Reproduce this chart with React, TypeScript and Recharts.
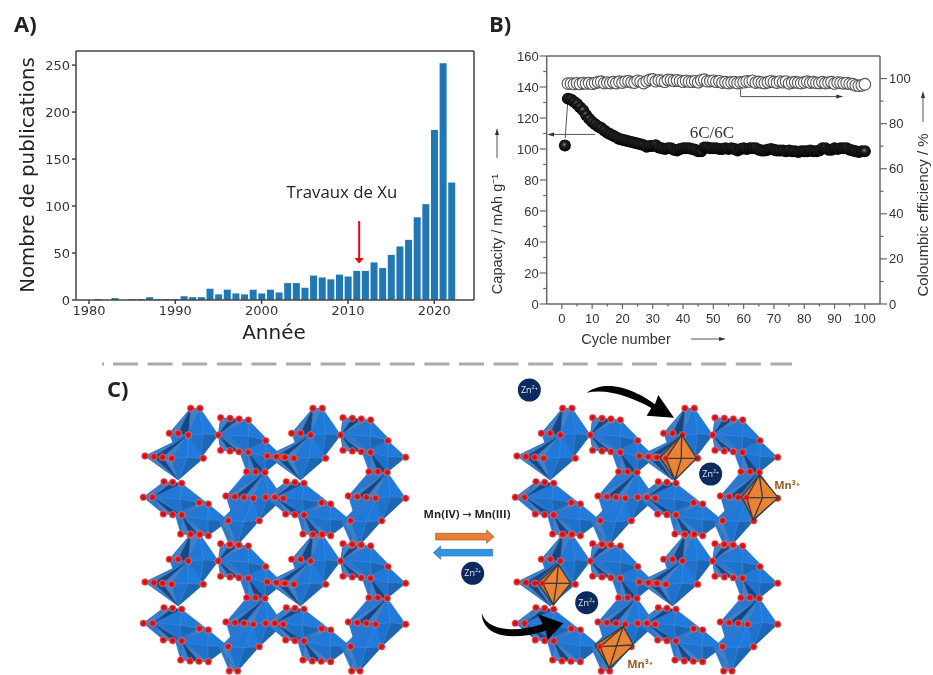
import {
  Bar,
  BarChart,
  ReferenceDot,
  ReferenceLine,
  Scatter,
  ScatterChart,
  XAxis,
  YAxis,
} from 'recharts'

// panel A: publications per year
const years = [
  1980, 1981, 1982, 1983, 1984, 1985, 1986, 1987, 1988, 1989, 1990, 1991, 1992, 1993, 1994, 1995, 1996, 1997, 1998,
  1999, 2000, 2001, 2002, 2003, 2004, 2005, 2006, 2007, 2008, 2009, 2010, 2011, 2012, 2013, 2014, 2015, 2016, 2017,
  2018, 2019, 2020, 2021, 2022,
]
const publications = [
  0, 1, 0, 2, 0, 1, 1, 3, 1, 1, 1, 4, 3, 3, 12, 6, 11, 7, 6, 11, 7, 11, 8, 18, 18, 13, 26, 24, 22, 27, 25, 31, 31, 40,
  34, 48, 57, 64, 88, 102, 181, 252, 125,
]
const yearTicks = [1980, 1990, 2000, 2010, 2020]
const pubTicks = [0, 50, 100, 150, 200, 250]

// panel B: capacity starts at cycle 1, efficiency at cycle 2
const capacity = [
  102.3, 132.5, 132, 130.5, 129, 127, 125, 122, 119.5, 117.5, 116, 114.5, 113.5, 112, 110.5, 109.5, 108.5, 107.5,
  106.5, 106, 105.5, 105, 104.5, 104, 103.5, 103, 102.5, 101.5, 102, 102, 102.5, 101, 100.5, 100, 100.5, 100.5, 99.5,
  99, 100, 100.5, 100.5, 100.5, 100, 99.5, 98.5, 98.5, 101, 101, 100.5, 100.5, 100.5, 100, 100, 100.5, 100, 100.5, 100,
  99, 100, 100.5, 100, 100.5, 100.5, 100.5, 99.5, 99, 99, 99.5, 100, 99.5, 99, 99, 99, 98.5, 99, 98.5, 98.5, 98, 98.5,
  98.5, 98.5, 99, 98.5, 98.5, 99, 100.5, 100.5, 99.5, 99.5, 100.5, 100, 100.5, 100.5, 100.5, 99.5, 99, 98.5, 98, 98.5,
  98.5,
]
const efficiency = [
  97.8, 97.8, 97.6, 97.9, 97.6, 98, 97.8, 98, 97.7, 98, 98.4, 98.6, 98, 98.2, 98, 98.4, 98, 98.6, 98.2, 98.7, 98.8,
  98.4, 98.2, 99, 98.7, 98, 98.8, 99.4, 99.6, 98.8, 99.2, 99, 98.6, 99.4, 99.3, 99, 99.2, 99, 98.6, 99, 98.7, 98.6,
  98.8, 98.4, 99.2, 99.5, 98.8, 98.9, 99, 98.6, 98.8, 98.2, 98.4, 98, 98.3, 98.4, 98, 98.3, 98.4, 98.8, 98.7, 99, 98.2,
  98.5, 98.2, 98, 98.4, 98.8, 98.5, 98.2, 98.7, 98.4, 98.7, 97.9, 98.2, 98.4, 98.2, 98, 98.3, 98.6, 98.2, 98.4, 98.1,
  98, 98.4, 98, 98.2, 98.4, 97.8, 98.2, 98.1, 97.9, 98, 97.7, 97.5, 97, 96.8, 97, 97.5,
]
const cycleTicks = [
  0, 5, 10, 15, 20, 25, 30, 35, 40, 45, 50, 55, 60, 65, 70, 75, 80, 85, 90, 95, 100,
]
const capacityTicks = [0, 10, 20, 30, 40, 50, 60, 70, 80, 90, 100, 110, 120, 130, 140, 150, 160]
const efficiencyTicks = [0, 10, 20, 30, 40, 50, 60, 70, 80, 90, 100]

const pubData = years.map((year, i) => ({ year, count: publications[i] }))
const capacityData = capacity.map((value, i) => ({ cycle: i + 1, value }))
const efficiencyData = efficiency.map((value, i) => ({ cycle: i + 2, value }))

const MPL = 'DejaVu Sans'
const ARIAL = 'Liberation Sans'
const AXIS_GREY = '#666'
const TEXT = '#333'

function CapacityDot({ cx, cy }: any) {
  return <circle cx={cx} cy={cy} r={6} fill="url(#ball)" />
}

function EfficiencyDot({ cx, cy }: any) {
  return <circle cx={cx} cy={cy} r={5.8} fill="#fff" stroke="#555" strokeWidth={1.1} />
}

// major ticks carry a label, the ones in between are only short marks
function BottomTick({ x, y, payload }: any) {
  const major = payload.value % 10 === 0
  return (
    <g>
      <line x1={x} x2={x} y1={y} y2={y + (major ? 5 : 2.5)} stroke={AXIS_GREY} strokeWidth={1.2} />
      {major && (
        <text x={x} y={y + 19} textAnchor="middle" fontFamily={ARIAL} fontSize={13} fill={TEXT}>
          {payload.value}
        </text>
      )}
    </g>
  )
}

function LeftTick({ x, y, payload }: any) {
  const major = payload.value % 20 === 0
  return (
    <g>
      <line x1={x - (major ? 7 : 3.5)} x2={x} y1={y} y2={y} stroke={AXIS_GREY} strokeWidth={1.2} />
      {major && (
        <text x={x - 8} y={y + 4.5} textAnchor="end" fontFamily={ARIAL} fontSize={13} fill={TEXT}>
          {payload.value}
        </text>
      )}
    </g>
  )
}

function RightTick({ x, y, payload }: any) {
  const major = payload.value % 20 === 0
  return (
    <g>
      <line x1={x} x2={x + (major ? 7 : 3.5)} y1={y} y2={y} stroke={AXIS_GREY} strokeWidth={1.2} />
      {major && (
        <text x={x + 9} y={y + 4.5} fontFamily={ARIAL} fontSize={13} fill={TEXT}>
          {payload.value}
        </text>
      )}
    </g>
  )
}

function PublicationsChart() {
  return (
    <BarChart
      width={480}
      height={350}
      data={pubData}
      margin={{ top: 51, right: 6, bottom: 20, left: 36 }}
      style={{ position: 'absolute', left: 0, top: 0 }}
    >
      <XAxis
        dataKey="year"
        type="number"
        domain={[1978.5, 2024.6]}
        ticks={yearTicks}
        interval={0}
        height={30}
        tickSize={4}
        tick={{ fontFamily: MPL, fontSize: 13, fill: TEXT }}
        stroke="#444"
        strokeWidth={1.5}
        allowDataOverflow
      />
      <YAxis
        domain={[0, 265]}
        ticks={pubTicks}
        interval={0}
        width={40}
        tickSize={4}
        tick={{ fontFamily: MPL, fontSize: 13, fill: TEXT }}
        stroke="#444"
        strokeWidth={1.5}
        allowDataOverflow
      />
      <ReferenceLine y={265} stroke="#444" strokeWidth={1.5} />
      <ReferenceLine x={2024.6} stroke="#444" strokeWidth={1.5} />
      <Bar dataKey="count" fill="#1f77b4" barSize={7} isAnimationActive={false} />
      <ReferenceLine
        segment={[
          { x: 2011.3, y: 84 },
          { x: 2011.3, y: 43 },
        ]}
        stroke="#f00000"
        strokeWidth={2}
        markerEnd="url(#headRed)"
      />
      <ReferenceDot
        x={2009.3}
        y={115}
        r={0}
        fill="none"
        stroke="none"
        label={{ value: 'Travaux de Xu', fontFamily: 'Open Sans', fontSize: 16.8, fill: '#222' }}
      />
    </BarChart>
  )
}

function CyclingChart() {
  return (
    <ScatterChart
      width={453}
      height={360}
      margin={{ top: 56, right: 3, bottom: 26, left: 16.7 }}
      style={{ position: 'absolute', left: 480, top: 0 }}
    >
      <XAxis
        dataKey="cycle"
        type="number"
        domain={[-5, 105]}
        ticks={cycleTicks}
        interval={0}
        height={30}
        tickLine={false}
        tickSize={0}
        tickMargin={0}
        tick={<BottomTick />}
        stroke={AXIS_GREY}
        strokeWidth={1.5}
        allowDataOverflow
      />
      <YAxis
        yAxisId="capacity"
        dataKey="value"
        type="number"
        domain={[0, 160]}
        ticks={capacityTicks}
        interval={0}
        width={50}
        tickLine={false}
        tickSize={0}
        tickMargin={0}
        tick={<LeftTick />}
        stroke={AXIS_GREY}
        strokeWidth={1.5}
        allowDataOverflow
      />
      <YAxis
        yAxisId="efficiency"
        orientation="right"
        dataKey="value"
        type="number"
        domain={[0, 110]}
        ticks={efficiencyTicks}
        interval={0}
        width={50}
        tickLine={false}
        tickSize={0}
        tickMargin={0}
        tick={<RightTick />}
        stroke={AXIS_GREY}
        strokeWidth={1.5}
        allowDataOverflow
      />
      <ReferenceLine yAxisId="capacity" y={160} stroke={AXIS_GREY} strokeWidth={1.5} />
      <Scatter
        yAxisId="efficiency"
        data={efficiencyData}
        shape={<EfficiencyDot />}
        isAnimationActive={false}
      />
      <Scatter yAxisId="capacity" data={capacityData} shape={<CapacityDot />} isAnimationActive={false} />
      <ReferenceLine
        yAxisId="capacity"
        segment={[
          { x: 2, y: 132 },
          { x: 1.1, y: 107 },
        ]}
        stroke="#555"
        strokeWidth={1}
      />
      <ReferenceLine
        yAxisId="capacity"
        segment={[
          { x: 11, y: 109.4 },
          { x: -2.9, y: 109.4 },
        ]}
        stroke="#555"
        strokeWidth={1}
        markerEnd="url(#headGrey)"
      />
      <ReferenceLine
        yAxisId="capacity"
        segment={[
          { x: 59, y: 139 },
          { x: 59, y: 133.8 },
        ]}
        stroke="#555"
        strokeWidth={1}
      />
      <ReferenceLine
        yAxisId="capacity"
        segment={[
          { x: 59, y: 133.8 },
          { x: 90.9, y: 133.8 },
        ]}
        stroke="#555"
        strokeWidth={1}
        markerEnd="url(#headGrey)"
      />
      <ReferenceDot
        yAxisId="capacity"
        x={49.5}
        y={111}
        r={0}
        fill="none"
        stroke="none"
        label={{ value: '6C/6C', fontFamily: 'Liberation Serif', fontSize: 17, fill: TEXT }}
      />
    </ScatterChart>
  )
}

// panel C: one repeating cell of the MnO2 framework, in units of a 3x view
type P = [number, number]
type Fan = { p: P; row: P[] }
type Octa = { hull: P[]; t: P; r: P; b: P; l: P; fans: Fan[] }

const cellOctas: Octa[] = [
  {
    hull: [[272, 115], [300, 115], [355, 195], [300, 268], [235, 268], [208, 190]],
    t: [300, 115],
    r: [355, 195],
    b: [300, 268],
    l: [265, 195],
    fans: [
      { p: [272, 115], row: [[208, 190], [235, 190], [265, 195]] },
      { p: [300, 115], row: [[272, 115], [265, 195]] },
    ],
  },
  {
    hull: [[265, 195], [310, 265], [235, 330], [135, 258]],
    t: [265, 195],
    r: [310, 265],
    b: [235, 330],
    l: [215, 265],
    fans: [
      { p: [265, 195], row: [[135, 258], [162, 260], [188, 262], [215, 265]] },
      { p: [235, 330], row: [[135, 258], [162, 260], [188, 262], [215, 265]] },
    ],
  },
  {
    hull: [[362, 143], [445, 150], [505, 212], [445, 247], [362, 241], [355, 195]],
    t: [445, 150],
    r: [505, 212],
    b: [445, 247],
    l: [385, 195],
    fans: [
      { p: [355, 195], row: [[362, 143], [390, 145], [417, 147], [445, 150]] },
      { p: [355, 195], row: [[362, 241], [390, 243], [417, 245], [445, 247]] },
    ],
  },
  {
    hull: [[497, 212], [550, 262], [495, 307], [440, 305], [420, 250]],
    t: [497, 212],
    r: [550, 262],
    b: [495, 307],
    l: [445, 247],
    fans: [{ p: [445, 247], row: [[440, 305], [467, 305], [495, 307]] }],
  },
  {
    hull: [[192, 335], [245, 340], [325, 402], [245, 435], [190, 432], [130, 382]],
    t: [245, 340],
    r: [300, 398],
    b: [245, 435],
    l: [180, 382],
    fans: [
      { p: [158, 382], row: [[192, 335], [218, 337], [245, 340]] },
      { p: [158, 382], row: [[190, 432], [218, 434], [245, 435]] },
      { p: [130, 382], row: [[192, 335], [158, 382]] },
    ],
  },
  {
    hull: [[298, 398], [325, 402], [385, 452], [325, 497], [242, 492], [225, 432]],
    t: [325, 402],
    r: [385, 452],
    b: [325, 497],
    l: [262, 440],
    fans: [
      { p: [245, 435], row: [[298, 398], [325, 402]] },
      { p: [245, 435], row: [[242, 492], [270, 495], [297, 496], [325, 497]] },
    ],
  },
  {
    hull: [[440, 305], [495, 307], [550, 385], [478, 452], [400, 452], [378, 378]],
    t: [495, 307],
    r: [550, 385],
    b: [478, 452],
    l: [460, 385],
    fans: [
      { p: [495, 307], row: [[378, 378], [405, 380], [432, 382], [460, 385]] },
      { p: [495, 307], row: [[440, 305], [467, 305]] },
    ],
  },
  {
    hull: [[432, 382], [460, 385], [478, 452], [413, 525], [388, 525], [358, 455]],
    t: [460, 385],
    r: [478, 452],
    b: [413, 525],
    l: [385, 452],
    fans: [
      { p: [460, 385], row: [[378, 378], [405, 380], [432, 382]] },
      { p: [385, 452], row: [[388, 525], [413, 525]] },
      { p: [413, 525], row: [[362, 460], [385, 452]] },
    ],
  },
]

const cellAtoms: P[] = [
  [272, 115], [300, 115], [208, 190], [235, 190], [265, 195], [355, 195],
  [362, 143], [390, 145], [417, 147], [445, 150], [362, 241], [390, 243], [417, 245], [445, 247],
  [497, 212], [550, 262], [440, 305], [467, 305], [495, 307],
  [135, 258], [162, 260], [188, 262], [215, 265], [310, 265],
  [192, 335], [218, 337], [245, 340], [130, 382], [158, 382],
  [190, 432], [218, 434], [245, 435], [298, 398], [325, 402], [385, 452],
  [242, 492], [270, 495], [297, 496], [325, 497],
  [378, 378], [405, 380], [432, 382], [460, 385], [550, 385], [478, 452], [388, 525], [413, 525],
]

const cellShifts: P[] = [
  [0, 0],
  [367, 0],
  [0, 378],
  [367, 378],
]

// orange octahedra, in the 3x view of the right structure
const reducedOctas: { t: P; r: P; b: P; l: P; back: P }[] = [
  { t: [785, 195], r: [830, 265], b: [765, 330], l: [738, 265], back: [720, 262] },
  { t: [1018, 315], r: [1075, 383], b: [1000, 450], l: [980, 383], back: [965, 380] },
  { t: [415, 583], r: [452, 640], b: [400, 705], l: [368, 640], back: [352, 638] },
  { t: [610, 770], r: [640, 825], b: [568, 895], l: [540, 830], back: [525, 825] },
]
const zincIons: P[] = [
  [328, 60],
  [872, 312],
  [158, 610],
  [500, 698],
]

const pts = (list: P[]) => list.map((p) => p.join(',')).join(' ')

function Octahedron({ o }: { o: Octa }) {
  const c: P = [(o.l[0] + o.r[0]) / 2, (o.t[1] + o.b[1]) / 2]
  return (
    <g>
      <polygon points={pts(o.hull)} fill="#2a78d0" stroke="#2a78d0" strokeWidth={1} />
      {o.fans.map((fan, i) =>
        fan.row.slice(1).map((a, j) => (
          <polygon
            key={`${i}-${j}`}
            points={pts([fan.p, fan.row[j], a])}
            fill={j % 2 ? '#174683' : '#3f80c8'}
            stroke="#245a9c"
            strokeWidth={1}
          />
        )),
      )}
      <polygon points={pts([o.t, o.l, c])} fill="#2079d8" />
      <polygon points={pts([o.t, o.r, c])} fill="#217bdc" />
      <polygon points={pts([o.b, o.l, c])} fill="#1e72cc" />
      <polygon points={pts([o.b, o.r, c])} fill="#1c66b6" />
      <path
        d={`M${o.l.join(',')}L${c.join(',')}L${o.r.join(',')}M${o.t.join(',')}L${c.join(',')}L${o.b.join(',')}`}
        stroke="#5c9de0"
        strokeWidth={1}
        fill="none"
      />
    </g>
  )
}

function Structure() {
  return (
    <g>
      {cellShifts.map(([dx, dy]) => (
        <g key={`${dx}-${dy}`} transform={`translate(${dx},${dy})`}>
          {cellOctas.map((o, i) => (
            <Octahedron key={i} o={o} />
          ))}
        </g>
      ))}
      {cellShifts.map(([dx, dy]) => (
        <g key={`${dx}-${dy}`} transform={`translate(${dx},${dy})`}>
          {cellAtoms.map(([x, y], i) => (
            <circle key={i} cx={x} cy={y} r={10.5} fill="url(#atom)" stroke="#c9a0a0" strokeWidth={1} />
          ))}
        </g>
      ))}
    </g>
  )
}

function ReducedOcta({ t, r, b, l, back }: (typeof reducedOctas)[number]) {
  const c: P = [(l[0] + r[0]) / 2, (l[1] + r[1]) / 2]
  return (
    <g stroke="#3a3a3a" strokeWidth={4} strokeLinejoin="round">
      <polygon points={pts([t, back, b])} fill="#c96f2a" />
      <polygon points={pts([t, r, b, l])} fill="#ea8434" />
      <path d={`M${l.join(',')}L${r.join(',')}M${t.join(',')}L${c.join(',')}L${b.join(',')}`} fill="none" />
      <circle cx={l[0]} cy={l[1]} r={9} fill="url(#atom)" stroke="none" />
    </g>
  )
}

function Scheme() {
  return (
    <svg width={933} height={675} style={{ position: 'absolute', left: 0, top: 0 }}>
      <defs>
        <radialGradient id="ball" cx="0.45" cy="0.42" r="0.55">
          <stop offset="0" stopColor="#8a8a8a" />
          <stop offset="0.35" stopColor="#222" />
          <stop offset="1" stopColor="#000" />
        </radialGradient>
        <radialGradient id="atom" cx="0.5" cy="0.5" r="0.5">
          <stop offset="0" stopColor="#b80f12" />
          <stop offset="0.75" stopColor="#e32024" />
          <stop offset="1" stopColor="#f04a4a" />
        </radialGradient>
        <marker id="headRed" markerWidth="6" markerHeight="6" refX="1" refY="2.5" orient="auto" markerUnits="strokeWidth">
          <path d="M0,0L3,2.5L0,5Z" fill="#f00000" />
        </marker>
        <marker id="headGrey" markerWidth="10" markerHeight="8" refX="1" refY="3" orient="auto" markerUnits="strokeWidth">
          <path d="M0,1L7,3L0,5Z" fill="#333" />
        </marker>
      </defs>

      <text x={14} y={32} fontFamily="Open Sans" fontWeight={700} fontSize={22} fill="#222">
        A)
      </text>
      <text x={489} y={32} fontFamily="Open Sans" fontWeight={700} fontSize={22} fill="#222">
        B)
      </text>
      <text x={107} y={397} fontFamily="Open Sans" fontWeight={700} fontSize={22} fill="#222">
        C)
      </text>

      <text transform="translate(34,175) rotate(-90)" textAnchor="middle" fontFamily={MPL} fontSize={19.8} fill="#222">
        Nombre de publications
      </text>
      <text x={274} y={339} textAnchor="middle" fontFamily={MPL} fontSize={20} fill="#222">
        Année
      </text>

      <text transform="translate(502,234) rotate(-90)" textAnchor="middle" fontFamily={ARIAL} fontSize={14.5} fill={TEXT}>
        Capacity / mAh g⁻¹
      </text>
      <text transform="translate(928,215) rotate(-90)" textAnchor="middle" fontFamily={ARIAL} fontSize={15} fill={TEXT}>
        Coloumbic efficiency / %
      </text>
      <text x={626} y={344} textAnchor="middle" fontFamily={ARIAL} fontSize={14.5} fill={TEXT}>
        Cycle number
      </text>
      <line x1={497} y1={158} x2={497} y2={134} stroke="#555" strokeWidth={1} markerEnd="url(#headGrey)" />
      <line x1={923} y1={122} x2={923} y2={97} stroke="#555" strokeWidth={1} markerEnd="url(#headGrey)" />
      <line x1={691} y1={339} x2={720} y2={339} stroke="#555" strokeWidth={1} markerEnd="url(#headGrey)" />

      <line x1={102} y1={364} x2={104} y2={364} stroke="#aaa" strokeWidth={3} />
      <line x1={113} y1={364} x2={792} y2={364} stroke="#aaa" strokeWidth={3} strokeDasharray="25 9.6" />

      <g transform="translate(100,370) scale(0.3333)">
        <Structure />
      </g>
      <g transform="translate(472,370) scale(0.3333)">
        <Structure />
      </g>

      <g transform="translate(420,370) scale(0.3333)">
        {reducedOctas.map((o, i) => (
          <ReducedOcta key={i} {...o} />
        ))}
        <path d="M500,68C570,20 660,70 705,103L715,75L762,143L680,137L694,114C640,85 570,55 500,68Z" fill="#000" />
        <path d="M185,730C205,790 300,785 368,762L352,732L430,760L382,810L378,782C290,810 190,810 185,730Z" fill="#000" />
        <path d="M47,490H200V480L222,500L200,520V510H47Z" fill="#ed7d31" stroke="#7f5a3a" strokeWidth={2} />
        <path d="M218,538H62V528L40,548L62,568V558H218Z" fill="#2e96e6" stroke="#3a6a90" strokeWidth={2} />
      </g>

      <text x={467} y={518} textAnchor="middle" fontFamily="Open Sans" fontWeight={700} fontSize={11} fill="#222">
        Mn(IV) <tspan fontFamily="DejaVu Sans" fontWeight={400}>→</tspan> Mn(III)
      </text>
      <text x={787} y={489} textAnchor="middle" fontFamily="Open Sans" fontWeight={700} fontSize={11} fill="#9c5a1f">
        Mn³⁺
      </text>
      <text x={640} y={668} textAnchor="middle" fontFamily="Open Sans" fontWeight={700} fontSize={11} fill="#9c5a1f">
        Mn³⁺
      </text>
      {zincIons.map(([x, y], i) => (
        <g key={i} transform={`translate(${420 + x / 3},${370 + y / 3})`}>
          <circle r={11.5} fill="#0d2a5e" />
          <text y={3} textAnchor="middle" fontFamily="Open Sans" fontSize={9} fill="#dfe6f2">
            Zn²⁺
          </text>
        </g>
      ))}
    </svg>
  )
}

export default function App() {
  return (
    <div
      style={{
        position: 'absolute',
        left: 0,
        top: 0,
        width: 933,
        height: 675,
        background: '#fff',
        overflow: 'hidden',
        filter: 'blur(0.4px)',
      }}
    >
      <Scheme />
      <PublicationsChart />
      <CyclingChart />
    </div>
  )
}
